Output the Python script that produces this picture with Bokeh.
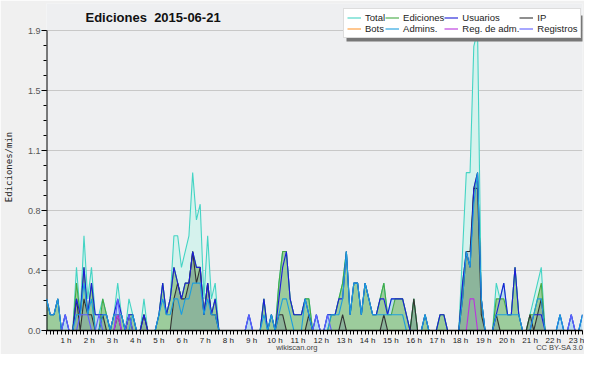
from bokeh.plotting import figure
from bokeh.models import (Range1d, FixedTicker, Legend, LegendItem, Label, BoxAnnotation,
                          LinearAxis)
from bokeh.embed import file_html
from bokeh.resources import INLINE

# ---- data: edits per minute, 10-minute bins, 2015-06-21 (144 bins) ----
total = [
    0.2, 0.1, 0.1, 0.2, 0, 0.1, 0, 0, 0.4, 0.1, 0.6, 0.2,
    0.4, 0.1, 0.1, 0.2, 0.1, 0, 0.1, 0.3, 0.1, 0, 0.2, 0.1,
    0, 0, 0.2, 0, 0, 0, 0.1, 0.3, 0.1, 0.2, 0.6, 0.6,
    0.4, 0.5, 0.6, 1.0, 0.7, 0.8, 0.2, 0.6, 0.2, 0.3, 0, 0,
    0, 0, 0, 0, 0, 0, 0.1, 0, 0, 0, 0.2, 0,
    0.1, 0, 0.3, 0.5, 0.5, 0.2, 0.1, 0.1, 0.1, 0.2, 0.2, 0,
    0.1, 0, 0, 0.1, 0.1, 0.1, 0.2, 0.3, 0.5, 0.1, 0.3, 0.3,
    0.1, 0.3, 0.2, 0.1, 0.1, 0.2, 0.3, 0.1, 0.2, 0.2, 0.2, 0.2,
    0.1, 0, 0.2, 0, 0, 0.1, 0, 0, 0, 0.1, 0.1, 0,
    0, 0, 0, 0.5, 1.0, 1.0, 1.8, 1.9, 0.2, 0, 0, 0,
    0.3, 0.2, 0.3, 0.1, 0.1, 0.4, 0.1, 0, 0, 0.1, 0.2, 0.3,
    0.4, 0, 0, 0, 0, 0.1, 0, 0, 0.1, 0, 0, 0.1,
]
ediciones = [
    0.2, 0.1, 0.1, 0.2, 0, 0, 0, 0, 0.3, 0.1, 0.4, 0.1,
    0.3, 0, 0, 0.2, 0.1, 0, 0.1, 0.1, 0.1, 0, 0.1, 0.1,
    0, 0, 0.1, 0, 0, 0, 0.1, 0.3, 0.1, 0.2, 0.4, 0.3,
    0.2, 0.3, 0.3, 0.5, 0.4, 0.4, 0.1, 0.3, 0.1, 0.2, 0, 0,
    0, 0, 0, 0, 0, 0, 0, 0, 0, 0, 0.2, 0,
    0.1, 0, 0.3, 0.5, 0.5, 0.2, 0.1, 0.1, 0.1, 0.2, 0.2, 0,
    0, 0, 0, 0, 0.1, 0.1, 0.2, 0.3, 0.5, 0.1, 0.3, 0.3,
    0.1, 0.3, 0.2, 0.1, 0.1, 0.2, 0.3, 0.1, 0.1, 0.2, 0.2, 0.2,
    0.1, 0, 0.2, 0, 0, 0.1, 0, 0, 0, 0.1, 0.1, 0,
    0, 0, 0, 0.3, 0.5, 0.4, 0.9, 1.0, 0.2, 0, 0, 0,
    0.2, 0.2, 0.2, 0.1, 0.1, 0.4, 0.1, 0, 0, 0.1, 0.1, 0.2,
    0.3, 0, 0, 0, 0, 0, 0, 0, 0, 0, 0, 0,
]
usuarios = [
    0.2, 0.1, 0.1, 0.2, 0, 0.1, 0, 0, 0.2, 0.1, 0.4, 0.1,
    0.3, 0.1, 0.1, 0.1, 0.1, 0, 0.1, 0.2, 0.1, 0, 0.1, 0.1,
    0, 0, 0.1, 0, 0, 0, 0.1, 0.3, 0.1, 0.2, 0.4, 0.3,
    0.2, 0.3, 0.3, 0.5, 0.4, 0.4, 0.1, 0.3, 0.1, 0.2, 0, 0,
    0, 0, 0, 0, 0, 0, 0.1, 0, 0, 0, 0.2, 0,
    0.1, 0, 0.2, 0.4, 0.5, 0.2, 0.1, 0.1, 0.1, 0.2, 0.1, 0,
    0.1, 0, 0, 0.1, 0.1, 0.1, 0.2, 0.2, 0.5, 0.1, 0.3, 0.3,
    0.1, 0.3, 0.2, 0.1, 0.1, 0.2, 0.2, 0.1, 0.2, 0.2, 0.2, 0.2,
    0.1, 0, 0, 0, 0, 0.1, 0, 0, 0, 0.1, 0.1, 0,
    0, 0, 0, 0.3, 0.5, 0.4, 0.9, 1.0, 0.2, 0, 0, 0,
    0.1, 0.2, 0.3, 0.1, 0.1, 0.4, 0.1, 0, 0, 0, 0.1, 0.1,
    0.1, 0, 0, 0, 0, 0.1, 0, 0, 0.1, 0, 0, 0.1,
]
ip = [
    0, 0, 0, 0, 0, 0, 0, 0, 0.2, 0, 0.2, 0.1,
    0.1, 0, 0, 0.1, 0, 0, 0, 0.1, 0, 0, 0.1, 0,
    0, 0, 0.1, 0, 0, 0, 0, 0, 0, 0, 0.2, 0.3,
    0.2, 0.2, 0.3, 0.5, 0.3, 0.4, 0.1, 0.3, 0.1, 0.1, 0, 0,
    0, 0, 0, 0, 0, 0, 0, 0, 0, 0, 0, 0,
    0, 0, 0.1, 0.1, 0, 0, 0, 0, 0, 0, 0.1, 0,
    0, 0, 0, 0, 0, 0, 0, 0.1, 0, 0, 0, 0,
    0, 0, 0, 0, 0, 0, 0.1, 0, 0, 0, 0, 0,
    0, 0, 0.2, 0, 0, 0, 0, 0, 0, 0, 0, 0,
    0, 0, 0, 0.2, 0.5, 0.5, 0.9, 0.9, 0.1, 0, 0, 0,
    0.1, 0, 0, 0, 0, 0, 0, 0, 0, 0.1, 0, 0.1,
    0.2, 0, 0, 0, 0, 0, 0, 0, 0, 0, 0, 0,
]
bots = [0] * 144
admins = [
    0.2, 0.1, 0.1, 0.2, 0, 0, 0, 0, 0.1, 0.1, 0.3, 0.1,
    0.2, 0, 0, 0.1, 0.1, 0, 0.1, 0.1, 0.1, 0, 0, 0.1,
    0, 0, 0, 0, 0, 0, 0.1, 0.2, 0.1, 0.1, 0.2, 0.2,
    0.1, 0.2, 0.2, 0.3, 0.3, 0.3, 0.1, 0.2, 0.1, 0.1, 0, 0,
    0, 0, 0, 0, 0, 0, 0, 0, 0, 0, 0.1, 0,
    0.1, 0, 0.1, 0.2, 0.2, 0.1, 0, 0, 0, 0.2, 0.1, 0,
    0, 0, 0, 0, 0.1, 0.1, 0.1, 0.2, 0.5, 0.1, 0.3, 0.3,
    0.1, 0.3, 0.2, 0.1, 0.1, 0.1, 0.1, 0.1, 0.1, 0.1, 0.1, 0.1,
    0, 0, 0, 0, 0, 0.1, 0, 0, 0, 0, 0, 0,
    0, 0, 0, 0.2, 0.5, 0.4, 0.8, 1.0, 0.2, 0, 0, 0,
    0.1, 0.1, 0.1, 0.1, 0.1, 0.1, 0.1, 0, 0, 0, 0.1, 0.2,
    0.2, 0, 0, 0, 0, 0.1, 0, 0, 0, 0, 0, 0.1,
]
reg_adm = [0] * 144
for i, v in [(19, 0.1), (113, 0.2), (114, 0.2)]:
    reg_adm[i] = v
registros = [0] * 144
for i, v in [(5, 0.1), (9, 0.1), (10, 0.1), (11, 0.1), (14, 0.1), (19, 0.2),
             (22, 0.1), (54, 0.1), (72, 0.1), (75, 0.1), (140, 0.1)]:
    registros[i] = v

hours = list(range(1, 24))
hour_labels = [f"{h} h" for h in hours]
y_ticks = [0.0, 0.38, 0.76, 1.14, 1.52, 1.9]
y_labels = ["0.0", "0.4", "0.8", "1.1", "1.5", "1.9"]
y_max = 1.9

x = list(range(len(total)))
n = len(total)

# ---- layout (pixels) ----
W, H = 584, 354
BL, BR, BT, BB = 46, 2, 3, 24
FRAME_H = H - BT - BB
Y_MAX_PX = 30                      # pixel row of y = 1.9
px_per_unit = (H - BB - Y_MAX_PX) / y_max
y_top = FRAME_H / px_per_unit

p = figure(width=W, height=H, output_backend="svg", toolbar_location=None,
           x_range=Range1d(0, n - 1), y_range=Range1d(0, y_top),
           min_border_left=BL, min_border_right=BR, min_border_top=BT, min_border_bottom=BB,
           background_fill_color="#eeeff1", border_fill_color="#f0f0f0")
p.outline_line_color = None

# x axis
px_per_bin_ref = 544 / 143
hour_pos = [(19.8 + 23.55 * (h - 1)) / px_per_bin_ref for h in hours]
p.xaxis.ticker = FixedTicker(ticks=hour_pos, minor_ticks=x)
p.xaxis.major_label_overrides = {pos: lab for pos, lab in zip(hour_pos, hour_labels)}
p.xaxis.major_tick_line_color = None
p.xaxis.major_tick_out = 4
p.xaxis.major_tick_in = 0
p.xaxis.minor_tick_out = 4
p.xaxis.minor_tick_in = 0
p.xaxis.minor_tick_line_color = "black"
p.xaxis.axis_line_width = 1.5
p.xaxis.axis_line_color = "black"
p.xaxis.major_label_standoff = 1
p.xaxis.major_label_text_font = "Liberation Sans"
p.xaxis.major_label_text_font_size = "8px"
p.xaxis.major_label_text_line_height = 1.0
p.xaxis.major_label_text_color = "#222222"

# footer line (site name + licence) as a second, bare axis row
foot_pos = [(300 - 46) / px_per_bin_ref, (567 - 46) / px_per_bin_ref]
foot_text = ["wikiscan.org", "CC BY-SA 3.0"]
foot = LinearAxis(ticker=FixedTicker(ticks=foot_pos, minor_ticks=[]),
                  major_label_overrides={pos: t for pos, t in zip(foot_pos, foot_text)},
                  axis_line_color=None, major_tick_line_color=None, minor_tick_line_color=None,
                  major_tick_out=0, major_tick_in=0, minor_tick_out=0, minor_tick_in=0,
                  major_label_standoff=-5,
                  major_label_text_font="Liberation Sans", major_label_text_font_size="7.5px",
                  major_label_text_line_height=1.0,
                  major_label_text_color="#444444")
p.add_layout(foot, "below")

# y axis
p.yaxis.ticker = FixedTicker(ticks=y_ticks, minor_ticks=[k * 0.095 for k in range(21)])
p.yaxis.major_label_overrides = {t: l for t, l in zip(y_ticks, y_labels)}
p.yaxis.major_tick_out = 5
p.yaxis.major_tick_in = 0
p.yaxis.minor_tick_out = 3
p.yaxis.minor_tick_in = 0
p.yaxis.axis_line_color = None
p.yaxis.major_tick_line_color = "black"
p.yaxis.minor_tick_line_color = "black"
p.yaxis.major_label_standoff = 1
p.yaxis.major_label_text_font = "Liberation Sans"
p.yaxis.major_label_text_font_size = "9px"
p.yaxis.major_label_text_color = "#555555"
p.yaxis.axis_label = "Ediciones/min"
p.yaxis.axis_label_text_font = "DejaVu Sans Mono"
p.yaxis.axis_label_text_font_size = "9px"
p.yaxis.axis_label_text_font_style = "normal"
p.yaxis.axis_label_text_color = "#222222"
p.yaxis.axis_label_standoff = 11

p.xgrid.visible = False
p.ygrid.grid_line_color = "#c8c8c8"

# ---- fills ----
p.varea(x=x, y1=0, y2=total, fill_color="#d5f2ed")
p.varea(x=x, y1=0, y2=usuarios, fill_color="#6699ee", fill_alpha=0.25)
p.varea(x=x, y1=0, y2=ediciones, fill_color="#9ccc9c")
p.varea(x=x, y1=0, y2=ip, fill_color="#55669a", fill_alpha=0.22)

# y axis line only up to the top tick
p.segment(x0=[0], y0=[0], x1=[0], y1=[y_max], line_color="black", line_width=2)

# ---- lines ----
lw = 1.1
r_total = p.line(x, total, line_color="#44d4c4", line_width=lw)
r_ed = p.line(x, ediciones, line_color="#44aa44", line_width=lw)
r_bots = p.line(x, bots, line_color="#ff9933", line_width=lw)
r_ip = p.line(x, ip, line_color="#333333", line_width=lw)
r_us = p.line(x, usuarios, line_color="#1c1cd8", line_width=lw)
r_adm = p.line(x, admins, line_color="#1c9ede", line_width=lw)
r_reg = p.line(x, registros, line_color="#5f5fff", line_width=lw)
r_ra = p.line(x, reg_adm, line_color="#bb33dd", line_width=lw)

# title inside the (tall) frame
frame_bottom = H - BB
p.add_layout(Label(x=85 - BL, y=frame_bottom - 17, x_units="screen", y_units="screen",
                   text="Ediciones\u00a0 2015-06-21", text_baseline="middle",
                   text_font="Liberation Sans", text_font_size="13px",
                   text_font_style="bold", text_color="#111111"))

# column-major order -> rows: Total Ediciones Usuarios IP / Bots Admins. Reg. de adm. Registros
items = [
    LegendItem(label="Total", renderers=[r_total]),
    LegendItem(label="Bots", renderers=[r_bots]),
    LegendItem(label="Ediciones", renderers=[r_ed]),
    LegendItem(label="Admins.", renderers=[r_adm]),
    LegendItem(label="Usuarios", renderers=[r_us]),
    LegendItem(label="Reg. de adm.", renderers=[r_ra]),
    LegendItem(label="IP", renderers=[r_ip]),
    LegendItem(label="Registros", renderers=[r_reg]),
]

LEG_LEFT, LEG_BOTTOM, LEG_W, LEG_H = 343, 38, 237, 26
lx, ly = LEG_LEFT - BL, frame_bottom - LEG_BOTTOM
p.add_layout(BoxAnnotation(left=lx + 3, right=lx + LEG_W + 3,
                           bottom=ly - 3, top=ly + LEG_H - 3,
                           left_units="screen", right_units="screen",
                           bottom_units="screen", top_units="screen",
                           fill_color="#777777", fill_alpha=1, line_color=None))

legend = Legend(items=items, ncols=4, location=(lx, ly),
                background_fill_color="white", background_fill_alpha=1,
                border_line_color="#bbbbbb", border_line_width=1,
                padding=3, spacing=0, margin=0,
                glyph_width=14, glyph_height=9, label_standoff=4, label_height=9,
                label_text_font="Liberation Sans", label_text_font_size="9.5px",
                label_text_color="#222222")
p.add_layout(legend)

open("out.html", "w").write(file_html(p, INLINE))
